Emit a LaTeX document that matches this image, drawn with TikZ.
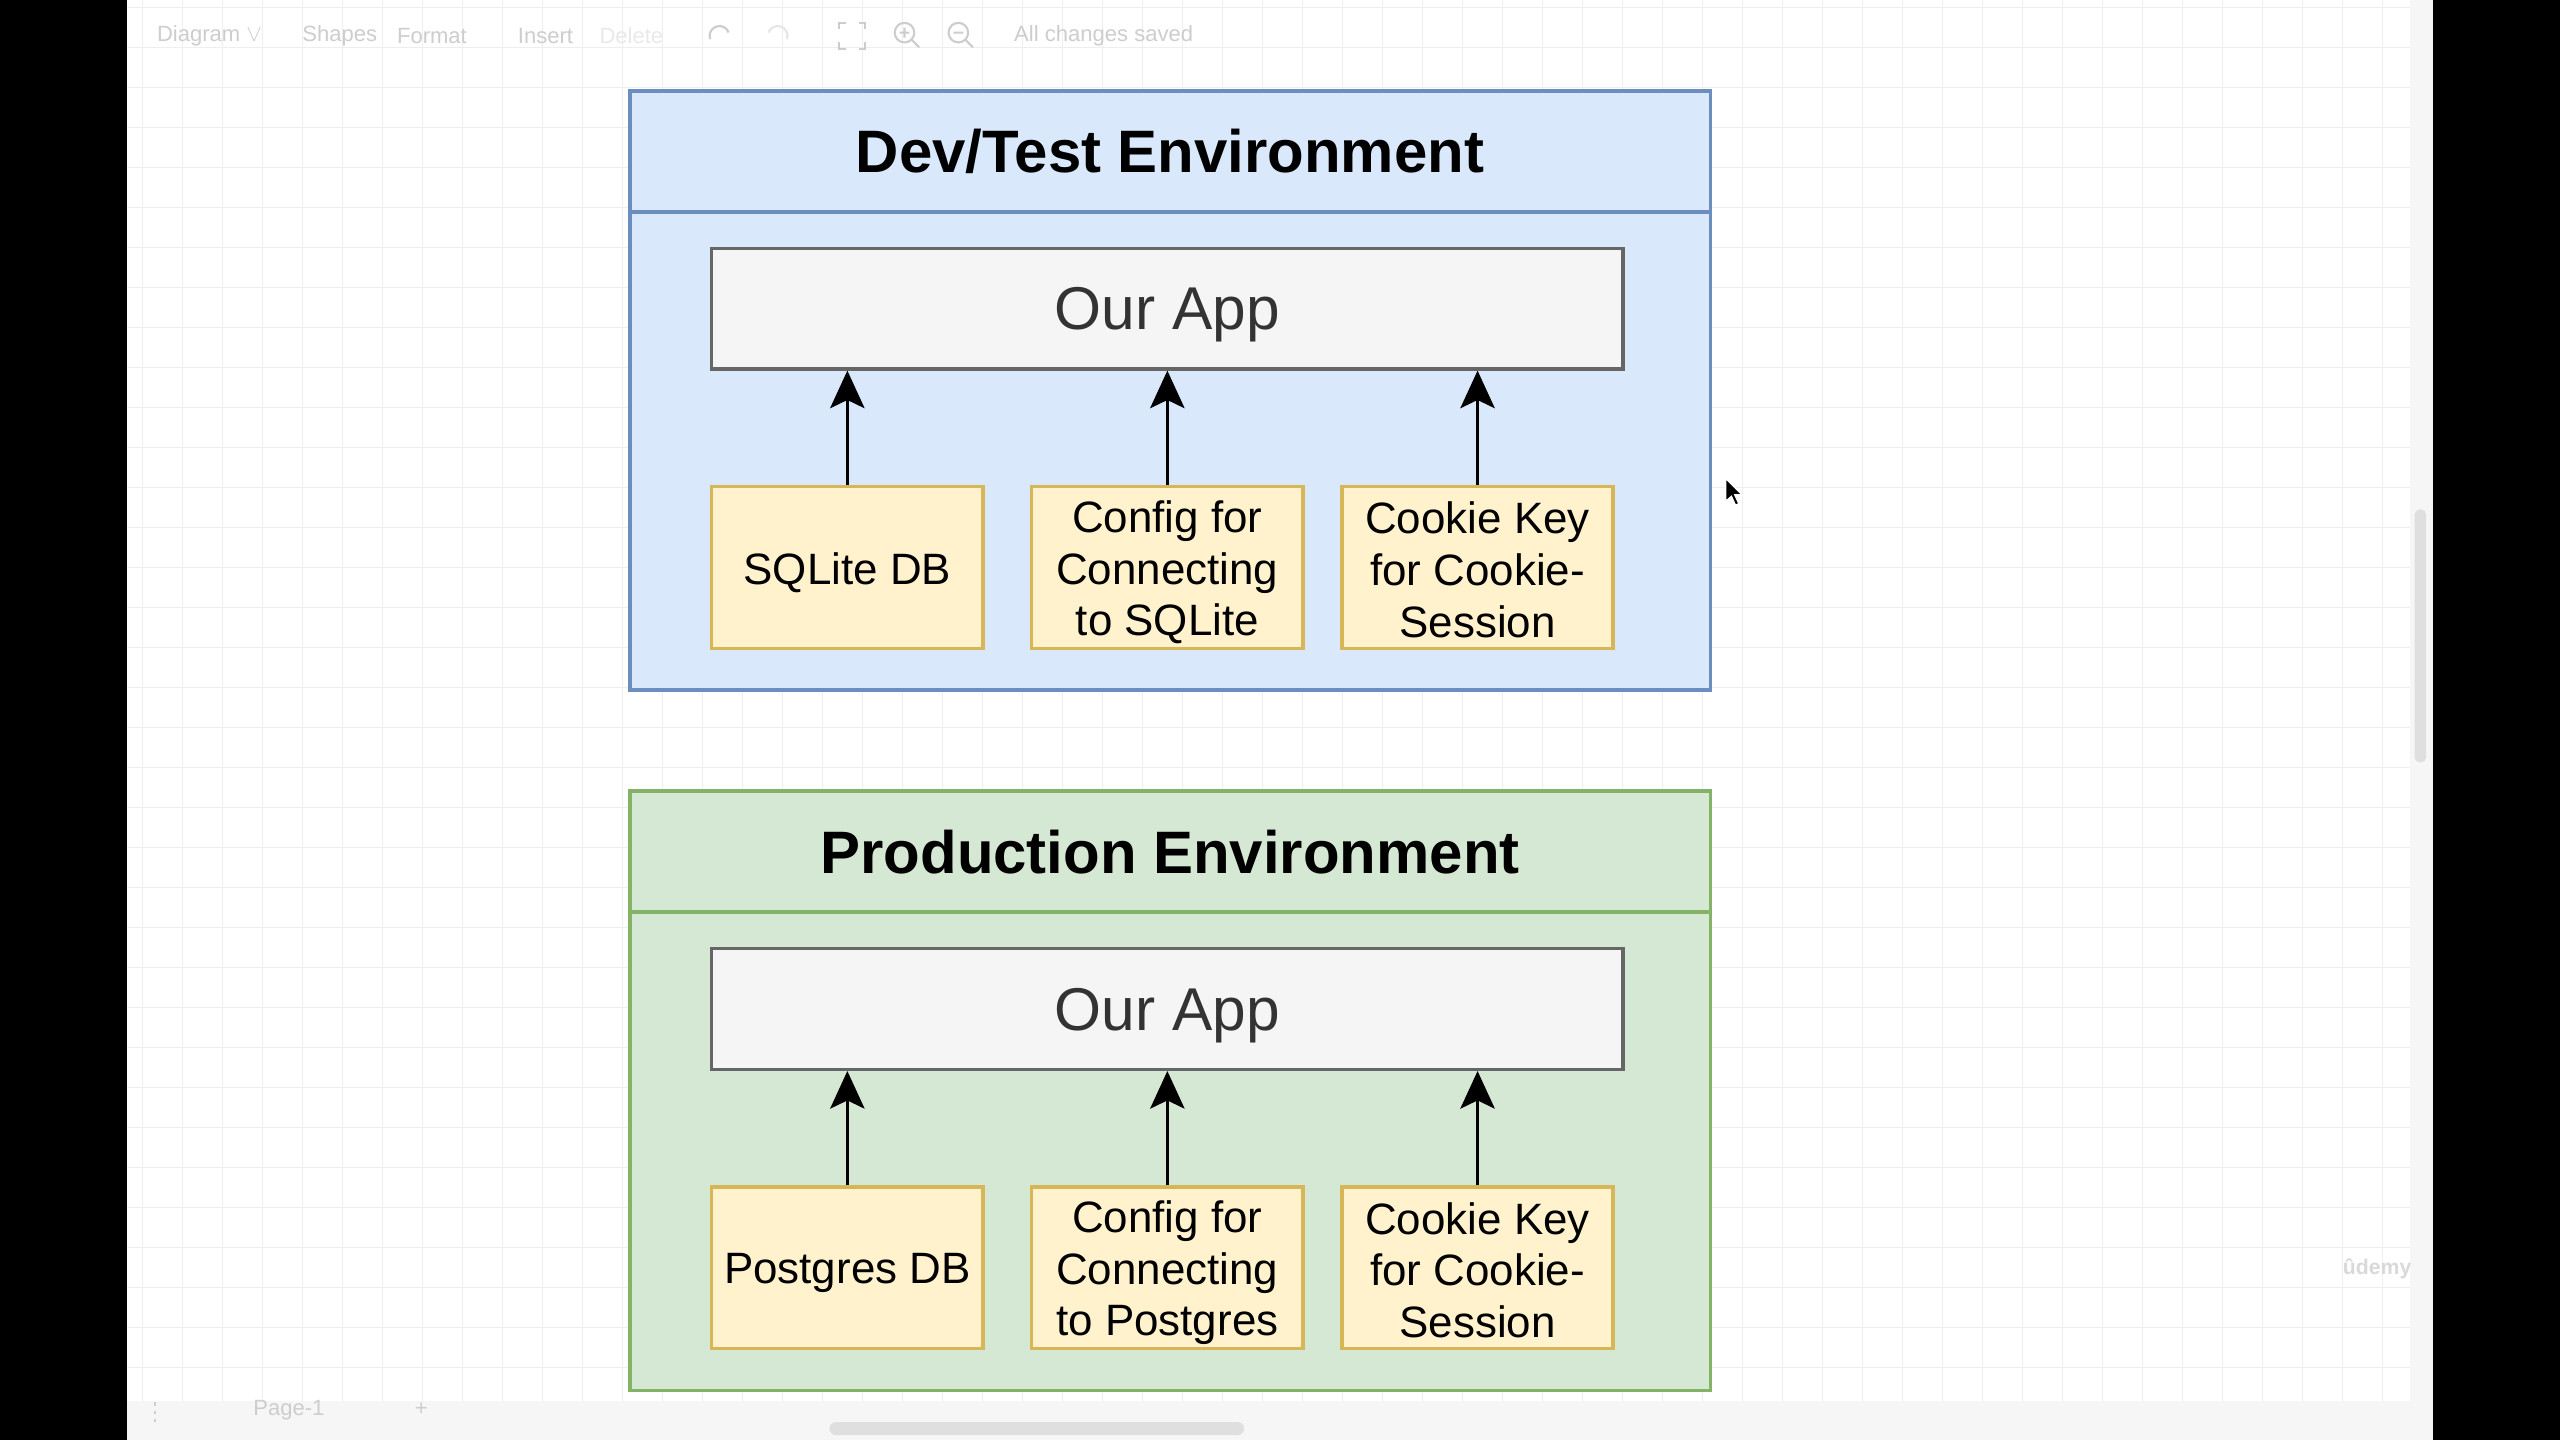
\documentclass[tikz,border=0pt]{standalone}
\usepackage{fontspec}
\setmainfont{Liberation Sans}
\usetikzlibrary{arrows.meta}
\definecolor{devfill}{HTML}{DAE8FC}
\definecolor{devline}{HTML}{6C8EBF}
\definecolor{prodfill}{HTML}{D5E8D4}
\definecolor{prodline}{HTML}{82B366}
\definecolor{yfill}{HTML}{FFF2CC}
\definecolor{yline}{HTML}{D6B656}
\definecolor{appfill}{HTML}{F5F5F5}
\definecolor{appline}{HTML}{666666}
\definecolor{apptext}{HTML}{333333}
\definecolor{gridc}{HTML}{EEEEEE}
\definecolor{uitext}{HTML}{CDCDCD}
\definecolor{panel}{HTML}{F6F6F6}
\begin{document}
\begin{tikzpicture}[x=1pt,y=-1pt,
  envbody/.style={draw, line width=2.3pt, minimum width=662pt, minimum height=367pt, anchor=north west, inner sep=0pt},
  envhead/.style={draw, line width=2.3pt, minimum width=662pt, minimum height=74pt, anchor=north west, inner sep=0pt},
  envtitle/.style={inner sep=0pt, font=\bfseries\fontsize{36.7}{42}\selectfont, text=black},
  appbox/.style={draw=appline, fill=appfill, line width=2pt, minimum width=558pt, minimum height=74pt, inner sep=0pt},
  apptitle/.style={inner sep=0pt, font=\fontsize{37}{42}\selectfont, text=apptext},
  compbox/.style={draw=yline, fill=yfill, line width=2pt, minimum width=166pt, minimum height=99pt, inner sep=0pt},
  comptext/.style={inner sep=0pt, align=center, font=\fontsize{26.9}{31.6}\selectfont, text=black},
  arr/.style={line width=2pt, -{Stealth[length=23pt,width=21pt,inset=5pt]}},
  uilabel/.style={text=uitext, font=\fontsize{13.5}{16}\selectfont, inner sep=0pt}
]
% page
\fill[white] (0,0) rectangle (1568,882);
% grid
\begin{scope}
\clip (78,0) rectangle (1476,858);
\foreach \i in {0,...,64} {
  \pgfmathsetmacro\xx{13.9+24.5*\i}
  \draw[gridc, line width=0.8pt] (\xx,0) -- (\xx,882);
}
\foreach \i in {0,...,36} {
  \pgfmathsetmacro\yy{4.7+24.5*\i}
  \draw[gridc, line width=0.8pt] (0,\yy) -- (1568,\yy);
}
\end{scope}
% side panels
\fill[panel] (1476,0) rectangle (1490,882);
\fill[panel] (78,858) rectangle (1490,882);
\fill[black] (0,0) rectangle (78,882);
\fill[black] (1490,0) rectangle (1568,882);
\fill[gray!25, rounded corners=3pt] (1479,312) rectangle (1486,467);
\fill[gray!25, rounded corners=4pt] (508,871) rectangle (762,879);

% toolbar
\node[uilabel, anchor=west] (tdiag) at (96,22) {Diagram \(\vee\)};
\node[uilabel, anchor=west] (tshapes) at (185,22) {Shapes};
\node[uilabel, anchor=west] (tformat) at (243,22) {Format};
\node[uilabel, anchor=west] (tinsert) at (317,22) {Insert};
\node[uilabel, anchor=west, text=uitext!45] (tdelete) at (367,22) {Delete};
\node[uilabel, anchor=west] (tsaved) at (621,22) {All changes saved};
\draw[uitext, line width=1.3pt] (435,24) arc (200:20:6pt);
\draw[uitext!50, line width=1.3pt] (482,24) arc (-20:160:6pt);
\draw[uitext, line width=1.3pt] (514,18) -- (514,14) -- (518,14) (526,14) -- (530,14) -- (530,18) (530,26) -- (530,30) -- (526,30) (518,30) -- (514,30) -- (514,26);
\draw[uitext, line width=1.3pt] (554,20) circle (6) (558.5,24.5) -- (563,29) (551,20) -- (557,20) (554,17) -- (554,23);
\draw[uitext, line width=1.3pt] (587,20) circle (6) (591.5,24.5) -- (596,29) (584,20) -- (590,20);
% bottom bar
\node[uilabel, anchor=west] (tpage) at (155,864) {Page-1};
\node[uilabel] (tplus) at (258,863) {+};
\draw[uitext, line width=1.3pt] (95,859) -- (95,861) (95,864) -- (95,866) (95,869) -- (95,871);
\node[text=gray!30, font=\bfseries\fontsize{13}{15}\selectfont] (udemy) at (1456,777) {ûdemy};

% ---------- Dev/Test environment ----------
\node[envbody, draw=devline, fill=devfill] (dev) at (384.5,54.5) {};
\node[envhead, draw=devline, fill=devfill] (devhead) at (384.5,54.5) {};
\node[envtitle] (devtitle) at (devhead.center) {Dev/Test Environment};
\node[appbox] (devapp) at (715,189) {};
\node[apptitle] (devapptxt) at ([yshift=-4pt]devapp.center) {Our App};
\node[compbox] (devdb) at (519,347.5) {};
\node[compbox] (devcfg) at (715,347.5) {};
\node[compbox] (devcookie) at (905,347.5) {};
\node[comptext] (devdbtxt) at ([yshift=-3pt]devdb.center) {SQLite DB};
\node[comptext] (devcfgtxt) at ([yshift=-3pt]devcfg.center) {Config for\\Connecting\\to SQLite};
\node[comptext] (devcookietxt) at ([yshift=-1.5pt]devcookie.center) {Cookie Key\\for Cookie-\\Session};
\draw[arr] (devdb.north) -- (devdb.north |- devapp.south);
\draw[arr] (devcfg.north) -- (devcfg.north |- devapp.south);
\draw[arr] (devcookie.north) -- (devcookie.north |- devapp.south);

% ---------- Production environment ----------
\node[envbody, draw=prodline, fill=prodfill] (prod) at (384.5,483.5) {};
\node[envhead, draw=prodline, fill=prodfill] (prodhead) at (384.5,483.5) {};
\node[envtitle] (prodtitle) at (prodhead.center) {Production Environment};
\node[appbox] (prodapp) at (715,618) {};
\node[apptitle] (prodapptxt) at ([yshift=-4pt]prodapp.center) {Our App};
\node[compbox] (proddb) at (519,776.5) {};
\node[compbox] (prodcfg) at (715,776.5) {};
\node[compbox] (prodcookie) at (905,776.5) {};
\node[comptext] (proddbtxt) at ([yshift=-3pt]proddb.center) {Postgres DB};
\node[comptext] (prodcfgtxt) at ([yshift=-3pt]prodcfg.center) {Config for\\Connecting\\to Postgres};
\node[comptext] (prodcookietxt) at ([yshift=-1.5pt]prodcookie.center) {Cookie Key\\for Cookie-\\Session};
\draw[arr] (proddb.north) -- (proddb.north |- prodapp.south);
\draw[arr] (prodcfg.north) -- (prodcfg.north |- prodapp.south);
\draw[arr] (prodcookie.north) -- (prodcookie.north |- prodapp.south);

% mouse cursor
\filldraw[fill=black, draw=white, line width=0.8pt] (1057,293) -- (1057,307) -- (1060.5,304) -- (1063,309.5) -- (1065,308.5) -- (1062.5,303) -- (1067,303) -- cycle;
\end{tikzpicture}
\end{document}
